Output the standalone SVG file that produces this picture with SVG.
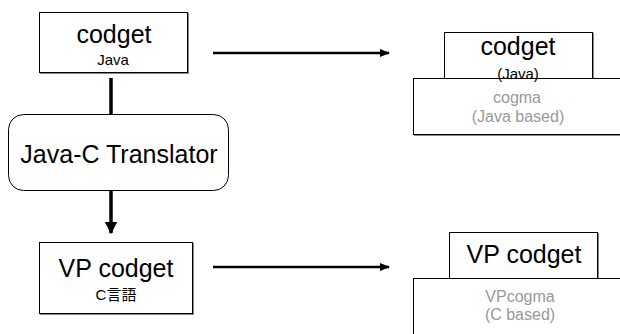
<svg xmlns="http://www.w3.org/2000/svg" width="620" height="334" viewBox="0 0 620 334">
<style>
text{font-family:"Liberation Sans",Arial,"Noto Sans CJK JP",sans-serif;text-anchor:middle;fill:#000}
.big{font-size:25px}
.small{font-size:15px}
.gray{font-size:16px;fill:#999}
.box{fill:#fff;stroke:#000;stroke-width:1}
.shadow{fill:#888}
.conn{stroke:#000;fill:none}
</style>
<defs>
<marker id="ah" viewBox="0 0 10 10" refX="9" refY="5" markerWidth="4" markerHeight="4" orient="auto" markerUnits="strokeWidth">
<path d="M0,1 L10,5 L0,9 z" fill="#000"/>
</marker>
<marker id="ahs" viewBox="0 0 10 10" refX="9" refY="5" markerWidth="3.5" markerHeight="3.5" orient="auto" markerUnits="strokeWidth">
<path d="M0,0 L10,5 L0,10 z" fill="#000"/>
</marker>
</defs>
<rect width="620" height="334" fill="#fff"/>
<g id="connectors">
<line class="conn" x1="111" y1="78" x2="111" y2="114" stroke-width="3.5"/>
<line class="conn" x1="111" y1="191" x2="111" y2="233" stroke-width="3.5" marker-end="url(#ahs)"/>
<line class="conn" x1="213" y1="53" x2="389" y2="53" stroke-width="2.5" marker-end="url(#ah)"/>
<line class="conn" x1="213" y1="267" x2="389" y2="267" stroke-width="2.5" marker-end="url(#ah)"/>
</g>
<g id="codget-java">
<rect class="shadow" x="40" y="13" width="149" height="61"/>
<rect class="box" x="39.5" y="12.5" width="148" height="60"/>
<text class="big" x="114" y="43">codget</text>
<text class="small" x="113" y="65">Java</text>
</g>
<g id="translator">
<rect class="box" x="8.5" y="114.5" width="220" height="76" rx="15" ry="15"/>
<text class="big" x="119" y="163">Java-C Translator</text>
</g>
<g id="vp-codget-c">
<rect class="shadow" x="40" y="243" width="154" height="72"/>
<rect class="box" x="39.5" y="242.5" width="153" height="71"/>
<text class="big" x="116" y="277">VP codget</text>
<text class="small" x="116" y="300">C言語</text>
</g>
<g id="codget-right">
<rect class="shadow" x="445" y="33" width="149" height="46"/>
<rect class="box" x="444.5" y="32.5" width="148" height="46"/>
<text class="big" x="518" y="55">codget</text>
</g>
<g id="cogma">
<rect class="shadow" x="414" y="79" width="210" height="57"/>
<rect class="box" x="413.5" y="78.5" width="220" height="56"/>
<text class="gray" x="517" y="103">cogma</text>
<text class="gray" x="518" y="122">(Java based)</text>
</g>
<g id="codget-right-label">
<text class="small" x="518" y="79">(Java)</text>
</g>
<g id="vp-codget-right">
<rect class="shadow" x="450" y="233" width="149" height="46"/>
<rect class="box" x="449.5" y="232.5" width="148" height="46"/>
<text class="big" x="524" y="263">VP codget</text>
</g>
<g id="vpcogma">
<rect class="shadow" x="414" y="279" width="210" height="60"/>
<rect class="box" x="413.5" y="278.5" width="220" height="70"/>
<text class="gray" x="520" y="302">VPcogma</text>
<text class="gray" x="520" y="320">(C based)</text>
</g>
</svg>
